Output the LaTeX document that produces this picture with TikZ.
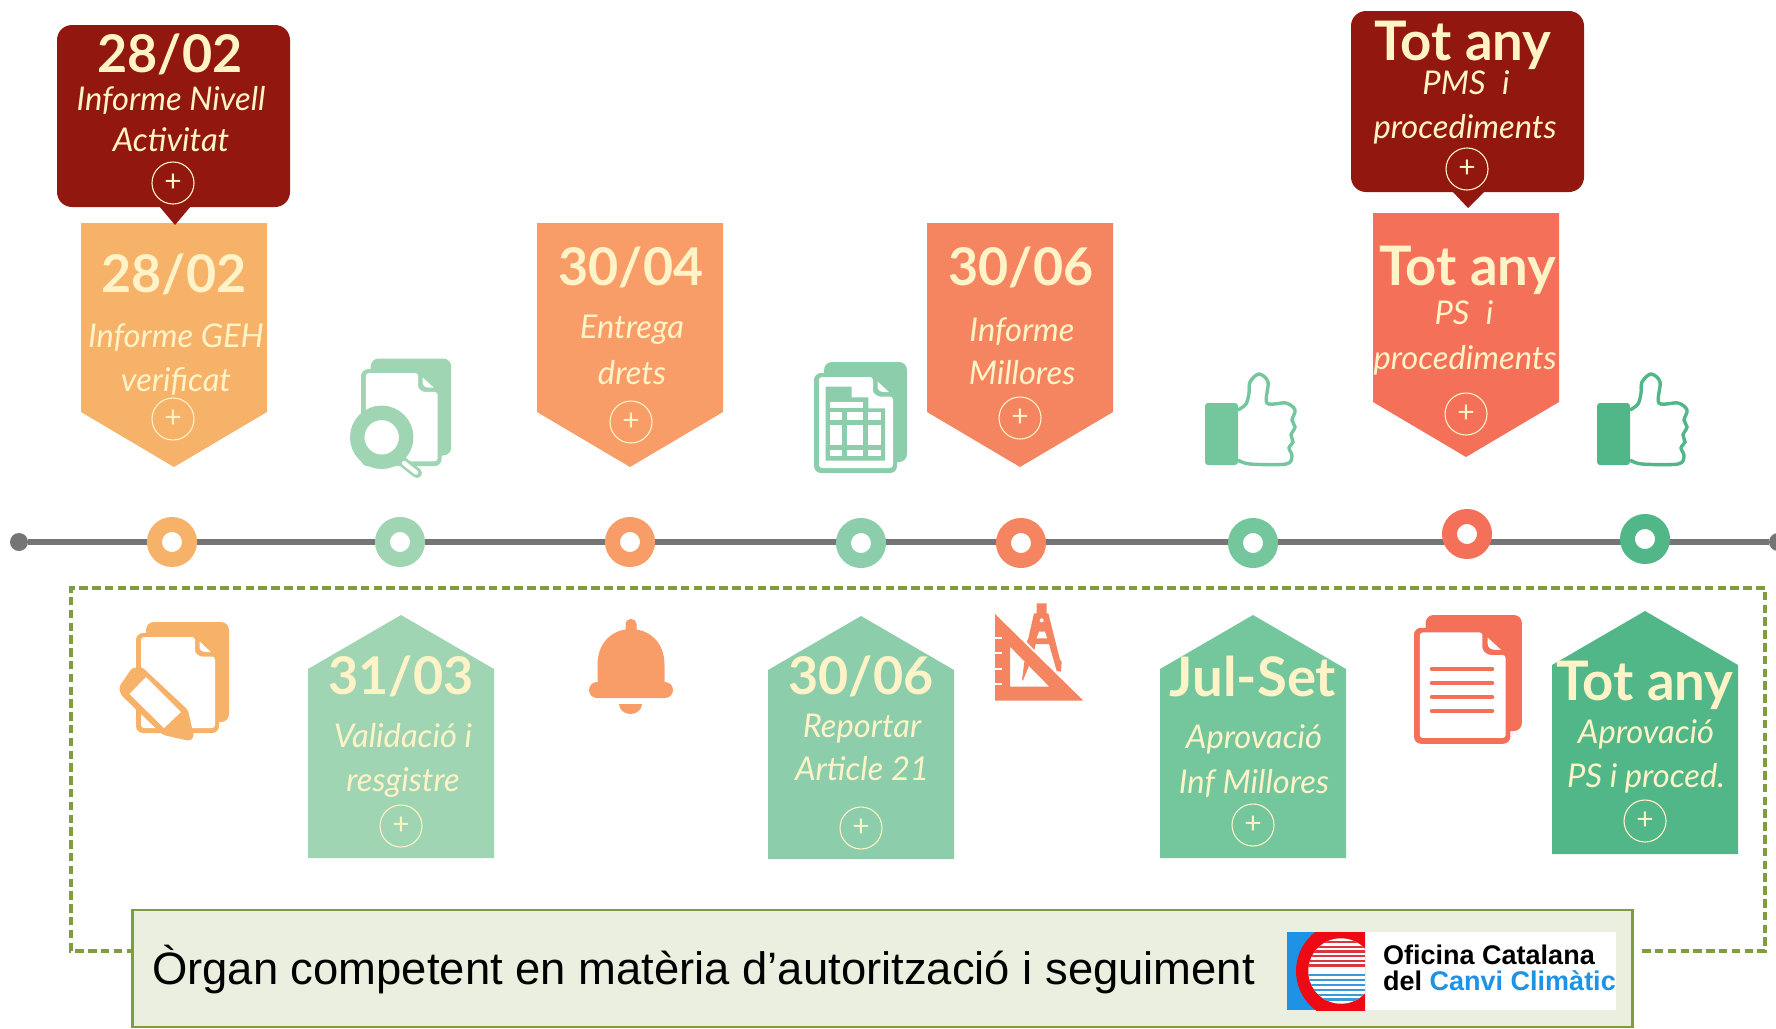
\documentclass[tikz,border=0pt]{standalone}
\usepackage{fontspec}
\setmainfont{Lato}
\newfontfamily\arialfont{Liberation Sans}
\usepackage{xcolor}
\definecolor{creamtext}{HTML}{FFF3C7}
\definecolor{darkred}{HTML}{91170F}
\definecolor{tagA}{HTML}{F7B26A}
\definecolor{tagB}{HTML}{F99D68}
\definecolor{tagC}{HTML}{F58560}
\definecolor{tagD}{HTML}{F47059}
\definecolor{tagE}{HTML}{A0D5B3}
\definecolor{tagF}{HTML}{8CCDAB}
\definecolor{tagG}{HTML}{74C69D}
\definecolor{tagH}{HTML}{52B788}
\definecolor{linegray}{HTML}{757575}
\definecolor{organgreen}{HTML}{7F9D3E}
\definecolor{organfill}{HTML}{EBEFDF}
\definecolor{logoblue}{HTML}{1E93E6}
\definecolor{logored}{HTML}{EE0A14}
\definecolor{stripered}{HTML}{D9363E}
\definecolor{stripeblue}{HTML}{3A9AD9}
\usepackage{tikz}

% back sheet, front sheet and folded corner
\newcommand{\sheeticon}[4]{
    \begin{scope}[shift={(#1,#2)}, scale=#3]
        \fill[#4, rounded corners=8] (10,0) rectangle (93,100);
        \fill[#4, rounded corners=7] (0,11) rectangle (83,111);
        \fill[white, rounded corners=3] (5,15) -- (59,15) -- (59,26) .. controls (59,31) and (63,34.5) .. (69,34.5) -- (79,34.5) -- (79,106) -- (5,106) -- cycle;
        \fill[white] (63.5,19.5) -- (75,30) -- (70,30) .. controls (66,30) and (63.5,28) .. (63.5,24.5) -- cycle;
    \end{scope}
}
\newcommand{\thumbicon}[3]{
    \begin{scope}[shift={(#1,#2)}]
        \fill[#3, rounded corners=3] (0,30) rectangle (33,92);
        \draw[#3, line width=3.4] plot[smooth, tension=.55] coordinates {(33,37) (41,31) (44,20) (45,9) (54,1) (63,9) (62,30) (81,30) (90,37) (87,47) (90,54) (86,62) (88,69) (84,75) (87,83) (81,91) (45,91) (33,87)};
    \end{scope}
}

\begin{document}
\begin{tikzpicture}[x=1pt, y=-1pt,
    datelabel/.style = {text=creamtext, inner sep=0, font=\fontsize{52}{52}\selectfont\bfseries},
    yearlabel/.style = {text=creamtext, inner sep=0, font=\fontsize{54.5}{54.5}\selectfont\bfseries},
    notelabel/.style = {text=creamtext, inner sep=0, font=\fontsize{32.7}{32.7}\selectfont\itshape},
    plusmark/.style = {draw=creamtext, text=creamtext, circle, line width=1.1, minimum size=42, inner sep=0, font=\fontsize{30}{30}\selectfont},
    ring/.style = {circle, line width=15, fill=white, minimum size=35, inner sep=0},
    dotend/.style = {circle, fill=linegray, minimum size=18, inner sep=0},
    framedash/.style = {organgreen, line width=3.2, dash pattern=on 8.5pt off 4.3pt}]
    \useasboundingbox (0,0) rectangle (1776,1028);

    % timeline
    \node[dotend] (linestart) at (19,542) {};
    \node[dotend] (lineend)   at (1778,542) {};
    \draw[linegray, line width=5.5] (linestart) -- (lineend);
    \foreach \name/\x/\y/\col in {ringA/172/542/tagA, ringB/400/542/tagE, ringC/630/542/tagB, ringD/861/543/tagF, ringE/1021/543/tagC, ringF/1253/543/tagG, ringG/1467/534/tagD, ringH/1645/539/tagH}
        \node[ring, draw=\col] (\name) at (\x,\y) {};

    % tags above and below the line
    \foreach \x/\y/\col in {174/223/tagA, 630/223/tagB, 1020/223/tagC, 1466/213/tagD}
        \fill[\col, shift={(\x,\y)}] (-93,0) -- (93,0) -- (93,189) -- (0,244) -- (-93,189) -- cycle;
    \foreach \x/\y/\col in {401/615/tagE, 861/616/tagF, 1253/615/tagG, 1645/611/tagH}
        \fill[\col, shift={(\x,\y)}] (0,0) -- (93,54) -- (93,243) -- (-93,243) -- (-93,54) -- cycle;

    % callouts
    \fill[darkred, rounded corners=15] (57,25) rectangle (290,207);
    \fill[darkred] (159,206) -- (191,206) -- (175,225) -- cycle;
    \fill[darkred, rounded corners=15] (1351,11) rectangle (1584,192);
    \fill[darkred] (1452,191) -- (1485,191) -- (1468,208) -- cycle;

    % texts
    \node[datelabel] (dateA) at (170,54)  {28/02};
    \node[notelabel] (noteA) at (171,100) {Informe Nivell};
    \node[notelabel] (noteB) at (171,140) {Activitat};
    \node[plusmark]  (plusA) at (173,183) {+};
    \node[datelabel] (dateB) at (174,274) {28/02};
    \node[notelabel] (noteC) at (176,338) {Informe GEH};
    \node[notelabel] (noteD) at (176,382) {verificat};
    \node[plusmark]  (plusB) at (173,419) {+};
    \node[datelabel] (dateC) at (631,267) {30/04};
    \node[notelabel] (noteE) at (632,330) {Entrega};
    \node[notelabel] (noteF) at (632,373) {drets};
    \node[plusmark]  (plusC) at (631,422) {+};
    \node[datelabel] (dateD) at (1021,267) {30/06};
    \node[notelabel] (noteG) at (1022,332) {Informe};
    \node[notelabel] (noteH) at (1022,373) {Millores};
    \node[plusmark]  (plusD) at (1020,418) {+};
    \node[yearlabel] (dateE) at (1468,270) {Tot any};
    \node[notelabel] (noteI) at (1464,313) {PS\enspace i};
    \node[notelabel] (noteJ) at (1465,360) {procediments};
    \node[plusmark]  (plusE) at (1466,414) {+};
    \node[yearlabel] (dateF) at (1463,45)  {Tot any};
    \node[notelabel] (noteK) at (1466,83)  {PMS\enspace i};
    \node[notelabel] (noteL) at (1465,129) {procediments};
    \node[plusmark]  (plusF) at (1467,169) {+};
    \node[datelabel] (dateG) at (401,676) {31/03};
    \node[notelabel] (noteM) at (403,736) {Validació i};
    \node[notelabel] (noteN) at (403,783) {resgistre};
    \node[plusmark]  (plusG) at (401,826) {+};
    \node[datelabel] (dateH) at (861,676) {30/06};
    \node[notelabel] (noteO) at (862,729) {Reportar};
    \node[notelabel] (noteP) at (862,769) {Article 21};
    \node[plusmark]  (plusH) at (861,828) {+};
    \node[yearlabel] (dateI) at (1253,676) {Jul-Set};
    \node[notelabel] (noteQ) at (1254,739) {Aprovació};
    \node[notelabel] (noteR) at (1254,783) {Inf Millores};
    \node[plusmark]  (plusI) at (1253,825) {+};
    \node[yearlabel] (dateJ) at (1645,685) {Tot any};
    \node[notelabel] (noteS) at (1646,734) {Aprovació};
    \node[notelabel] (noteT) at (1646,778) {PS i proced.};
    \node[plusmark]  (plusJ) at (1645,821) {+};

    % paper and pencil
    \sheeticon{136}{622}{1}{tagA}
    \fill[tagA, rounded corners=3] (119,687) -- (132,668) -- (142,667) -- (188,710) -- (194,737) -- (190,741) -- (163,735) -- (121,695) -- cycle;
    \fill[white] (129.5,694) -- (146,677) -- (181,712) -- (164,728) -- cycle;
    % paper and magnifier
    \sheeticon{361}{358.5}{.97}{tagE}
    \draw[tagE, line width=10, line cap=round] (403,462) -- (417,473);
    \draw[white, line width=4.5, line cap=round] (404,463) -- (416,472.5);
    \fill[white] (381.7,437.3) circle (20);
    \draw[tagE, line width=14.4] (381.7,437.3) circle (24.5);
    % bell
    \fill[tagB, rounded corners=5] (625.5,619) rectangle (636.5,640);
    \fill[tagB] (597.5,690) -- (597.5,665) .. controls (597.5,640) and (615,629) .. (631,629) .. controls (647,629) and (664.5,640) .. (664.5,665) -- (664.5,690) -- cycle;
    \fill[tagB, rounded corners=8] (589,682) rectangle (673,698);
    \fill[tagB] (642,704) arc[start angle=0, end angle=180, x radius=11.5, y radius=10] -- cycle;
    % spreadsheet
    \sheeticon{814}{362}{1}{tagF}
    \fill[tagF] (825.7,386.7) -- (851.7,386.7) -- (851.7,397.3) -- (868.3,397.3) -- (868.3,408.3) -- (885,408.3) -- (885,460.7) -- (825.7,460.7) -- cycle;
    \fill[white] (830,401.7) rectangle (863.3,407.7);
    \foreach \rowa/\rowb in {412.3/420, 425/445, 450/456} {
        \fill[white] (830,\rowa) rectangle (842.3,\rowb);
        \fill[white] (846.7,\rowa) rectangle (863.3,\rowb);
        \fill[white] (868.3,\rowa) rectangle (880.7,\rowb);
    }
    % set square and compass
    \begin{scope}[shift={(985,595)}, scale=1/3]
        \fill[tagC] (155,25) -- (185,25) -- (185,55) -- (190,55) -- (225,195) -- (230,200) -- (228,230) -- (215,228) -- (192,147) -- (152,147) -- (148,165) -- (125,140) -- (130,130) -- (147,55) -- (155,55) -- cycle;
        \fill[white] (170,76) circle (6);
        \fill[white] (162,110) -- (180,110) -- (186,130) -- (155,130) -- cycle;
        \fill[tagC, even odd rule] (30,57) -- (295,317) -- (30,317) -- cycle (75,155) -- (193,275) -- (75,275) -- cycle;
        \foreach \y in {130, 175, 222, 267}
            \fill[white] (30,\y-3) rectangle (50,\y+3);
        \fill[tagC] (118,200) -- (133,210) -- (114,256) -- (111,256) -- cycle;
    \end{scope}
    % thumbs
    \thumbicon{1205}{373}{tagG}
    \thumbicon{1597}{373}{tagH}
    % document
    \sheeticon{1414}{615}{1.16}{tagD}
    \foreach \y in {669, 683, 697, 711}
        \draw[tagD, line width=4.5, line cap=round] (1432,\y) -- (1492,\y);

    % dashed frame and organ box
    \coordinate (frameA) at (71,951);
    \coordinate (frameB) at (71,588);
    \coordinate (frameC) at (1765,588);
    \coordinate (frameD) at (1765,951);
    \coordinate (frameE) at (1640,951);
    \coordinate (frameF) at (135,951);
    \draw[framedash] (frameF) -- (frameA) -- (frameB) -- (frameC) -- (frameD) -- (frameE);
    \node[draw=organgreen, fill=organfill, line width=2.5, minimum width=1500, minimum height=117, inner sep=0] (organbox) at (882.5,968.5) {};
    \node[anchor=west, inner sep=0, font=\arialfont\fontsize{45.4}{45.4}\selectfont] (organtext) at (152,970) {Òrgan competent en matèria d’autorització i seguiment};

    % logo
    \node[fill=white, minimum width=329, minimum height=78, inner sep=0] (logobox) at (1451.5,971) {};
    \begin{scope}
        \clip (1287,932) rectangle (1365,1010);
        \fill[logoblue] (1287,932) rectangle (1365,1010);
        \fill[logored] (1345,971) circle (49);
        \fill[white] (1341,971) circle (32.7);
        \clip (1341,971) circle (32.7);
        \foreach \y in {942, 947, 951.5, 956, 961, 965.5}
            \draw[stripered, line width=2.8] (1300,\y) -- (1365,\y);
        \foreach \y in {975, 980, 985, 990, 995, 999.5}
            \draw[stripeblue, line width=2.8] (1300,\y) -- (1365,\y);
    \end{scope}
    \node[anchor=west, inner sep=0, font=\arialfont\bfseries\fontsize{27}{27}\selectfont] (logotop) at (1383,955) {Oficina Catalana};
    \node[anchor=west, inner sep=0, font=\arialfont\bfseries\fontsize{27}{27}\selectfont] (logolow) at (1383,981) {del \textcolor{logoblue}{Canvi Climàtic}};
\end{tikzpicture}
\end{document}
